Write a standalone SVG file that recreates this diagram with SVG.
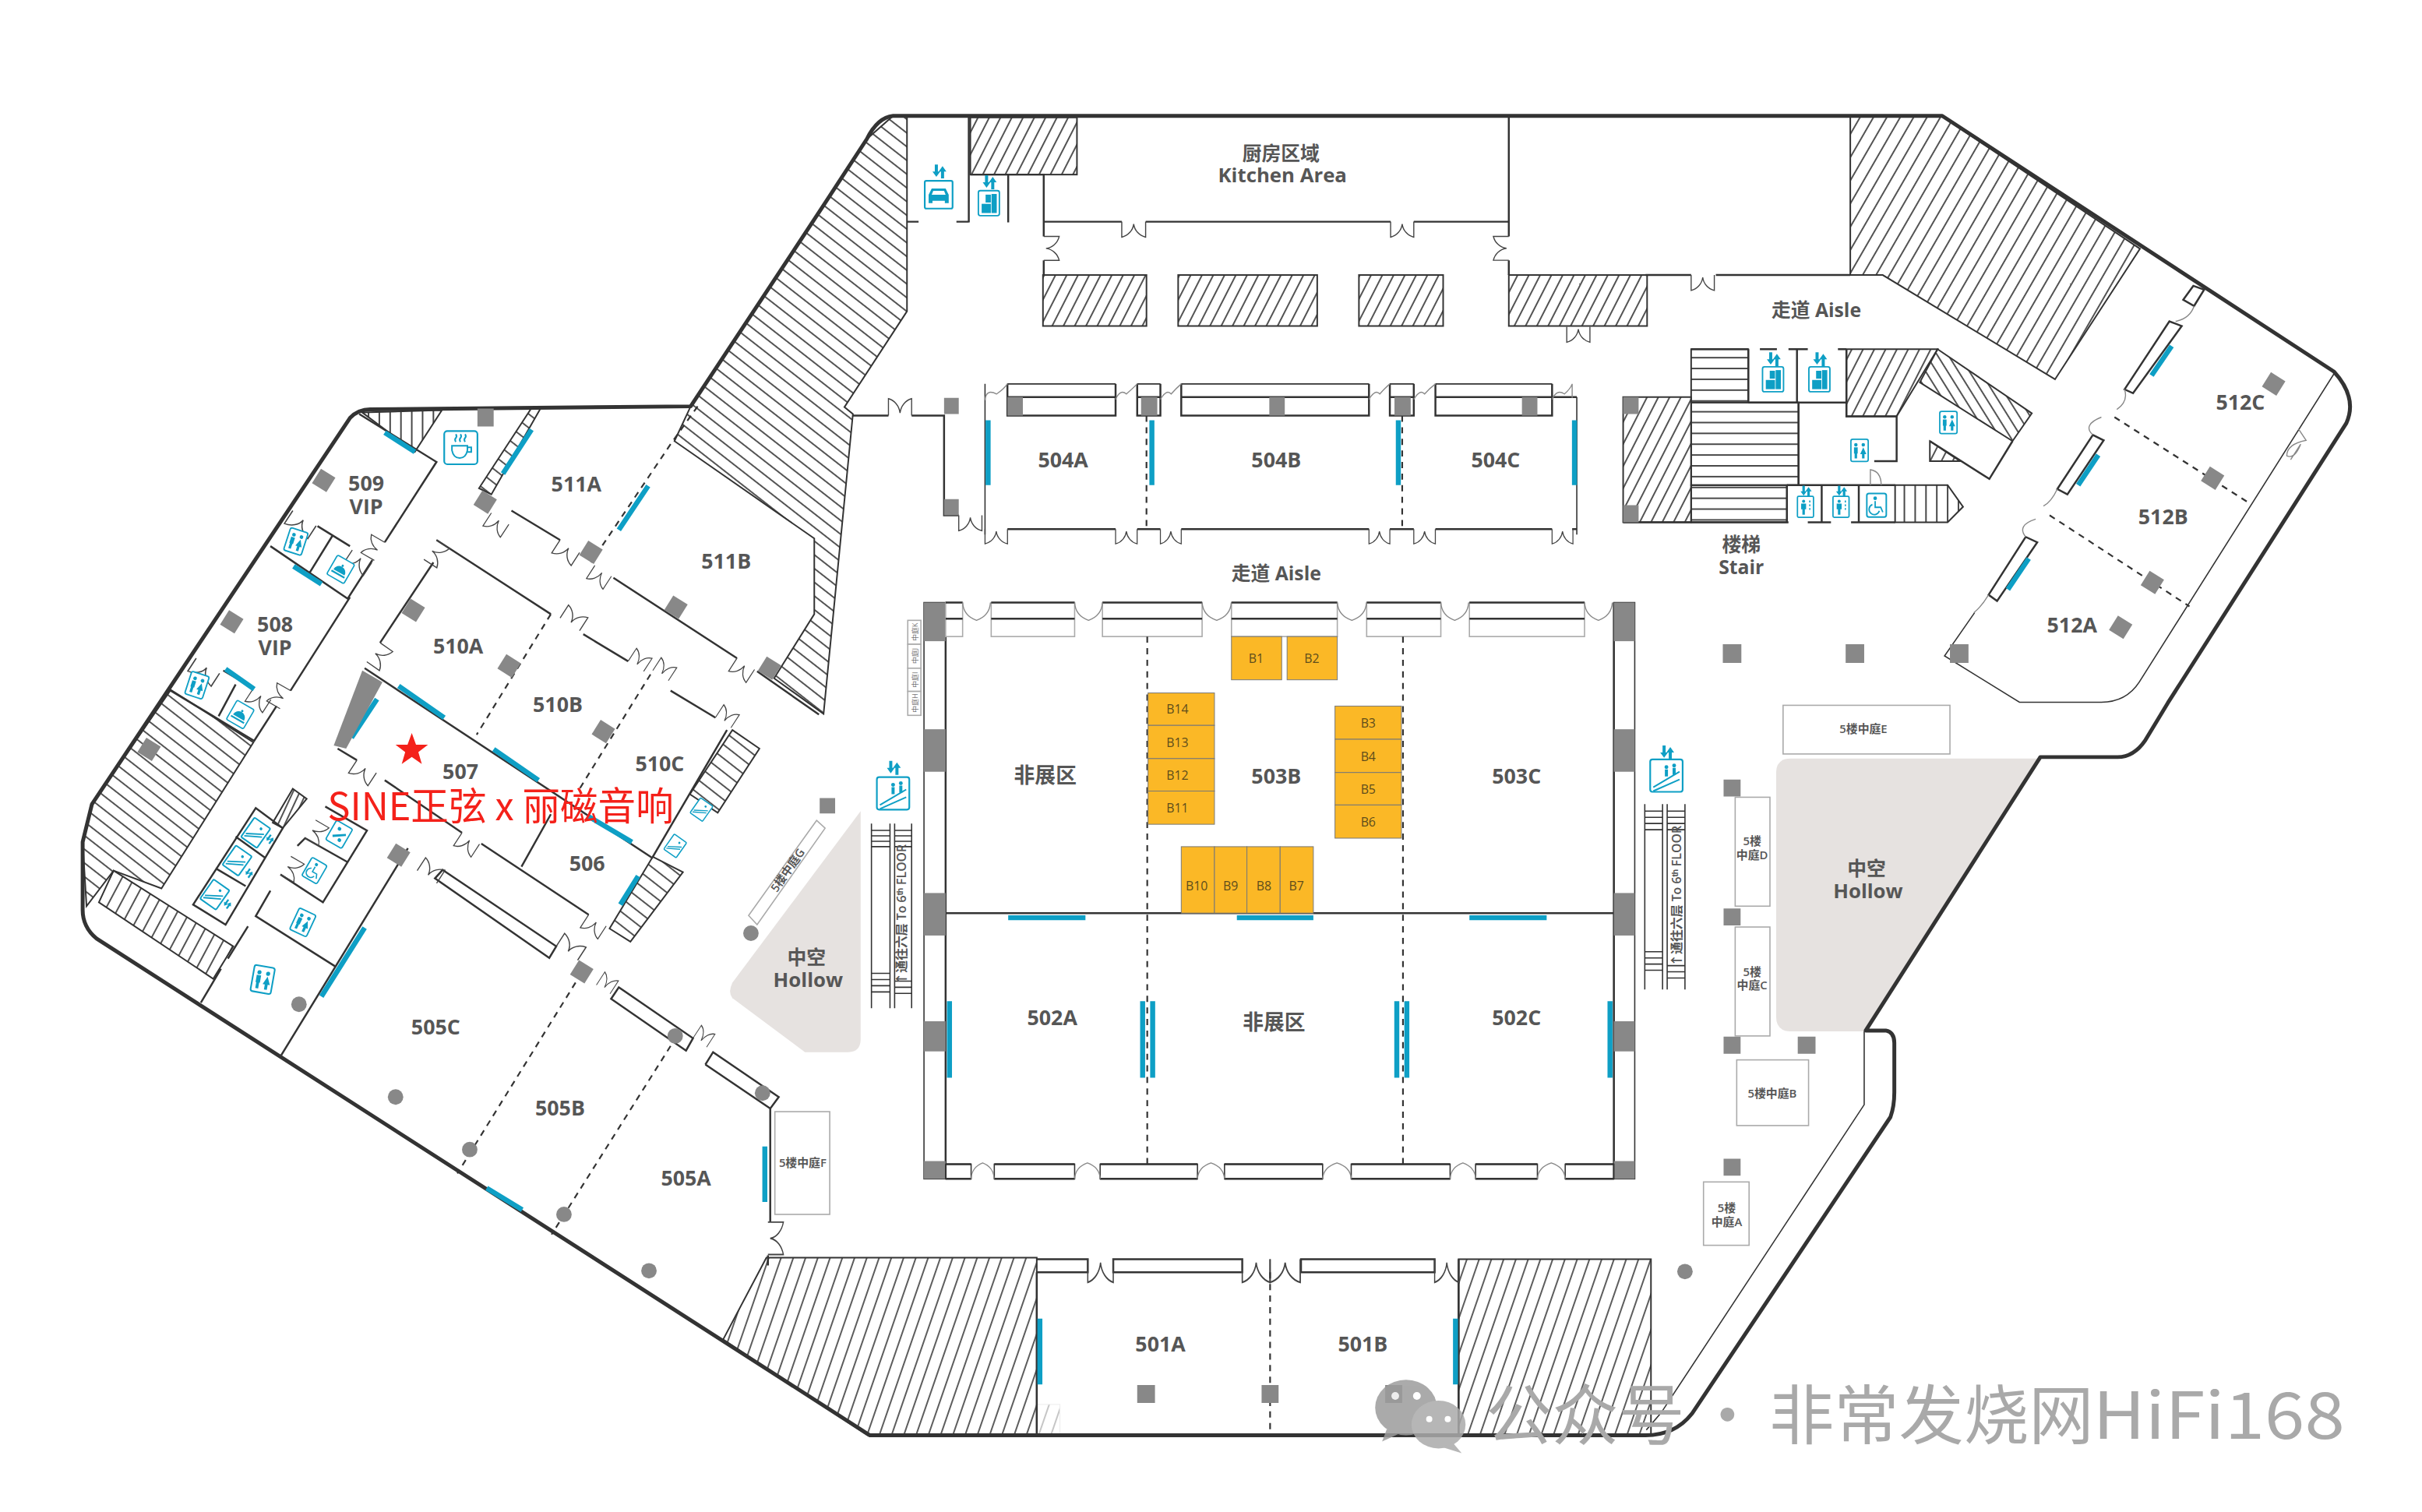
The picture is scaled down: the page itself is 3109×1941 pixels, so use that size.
<svg xmlns="http://www.w3.org/2000/svg" width="3109" height="1941" viewBox="0 0 3109 1941">
<style>
text{font-family:"Open Sans","Noto Sans CJK SC",sans-serif;text-anchor:middle;dominant-baseline:central;fill:#565656}
.l{font-size:27px;font-weight:700}
.c{font-size:25px;font-weight:700}
.s{font-size:15px;font-weight:600}
.xs{font-size:9px;fill:#777}
.b{font-size:16px;font-weight:400;fill:#5d4c1c}
.w{fill:none;stroke:#333;stroke-width:2.5}
.o{fill:none;stroke:#333;stroke-width:5;stroke-linejoin:round}
.t{fill:none;stroke:#333;stroke-width:1.6}
.g{fill:#fff;stroke:#aaa;stroke-width:1.6}
.thin{fill:none;stroke:#888;stroke-width:1.4}
.d{fill:none;stroke:#333;stroke-width:2.2;stroke-dasharray:8 7}
.p{fill:#888}
.bl{fill:none;stroke:#0e9fc5;stroke-width:6.5}
.hb{stroke:#333;stroke-width:2;fill-rule:evenodd}
.or{fill:#fbb826;stroke:#777;stroke-width:1}
.i{fill:#fff;stroke:#0e9fc5;stroke-width:2.2}
.in{fill:none;stroke:#0e9fc5;stroke-width:2}
.if{fill:#0e9fc5}
.wm{fill:#a9a9a9;font-size:84px;font-weight:400;font-family:"Noto Sans CJK SC","Noto Sans",sans-serif}
</style>
<defs>
<pattern id="hs" patternUnits="userSpaceOnUse" width="13" height="13" patternTransform="rotate(27)"><line x1="1" y1="0" x2="1" y2="13" stroke="#333" stroke-width="1.7"/></pattern>
<pattern id="hne" patternUnits="userSpaceOnUse" width="15" height="15" patternTransform="rotate(30)"><line x1="1" y1="0" x2="1" y2="15" stroke="#333" stroke-width="1.7"/></pattern>
<pattern id="hv" patternUnits="userSpaceOnUse" width="15" height="15" patternTransform="rotate(19)"><line x1="1" y1="0" x2="1" y2="15" stroke="#333" stroke-width="1.6"/></pattern>
<pattern id="hbk" patternUnits="userSpaceOnUse" width="14" height="14" patternTransform="rotate(38)"><line x1="0" y1="1" x2="14" y2="1" stroke="#333" stroke-width="1.7"/></pattern>
<pattern id="hst" patternUnits="userSpaceOnUse" width="14" height="14" patternTransform="rotate(28)"><line x1="1" y1="0" x2="1" y2="14" stroke="#333" stroke-width="1.7"/></pattern>
<pattern id="hdn" patternUnits="userSpaceOnUse" width="8" height="8" patternTransform="rotate(25)"><line x1="1" y1="0" x2="1" y2="8" stroke="#333" stroke-width="1.7"/></pattern>
<pattern id="hver" patternUnits="userSpaceOnUse" width="14" height="14"><line x1="1" y1="0" x2="1" y2="14" stroke="#333" stroke-width="1.8"/></pattern>
<pattern id="hhor" patternUnits="userSpaceOnUse" width="14" height="14"><line x1="0" y1="1" x2="14" y2="1" stroke="#333" stroke-width="1.8"/></pattern>
<pattern id="hst2" patternUnits="userSpaceOnUse" width="12" height="12" patternTransform="rotate(58)"><line x1="0" y1="1" x2="12" y2="1" stroke="#333" stroke-width="1.7"/></pattern>
<path id="door" d="M0 0V20A20 20 0 0 0 15 3A20 20 0 0 0 30 20V0" fill="none" stroke="#444" stroke-width="1.4"/>
<path id="dh" d="M0 0Q1 17 18 23Q35 17 36 0" fill="none" stroke="#888" stroke-width="1.4"/>
<g id="arr"><path class="if" d="M-4 -9v9h-3l5 7 5-7h-3v-9zM4 9v-9h-3l5-7 5 7h-3v9z" transform="translate(-1 0)"/></g>
<g id="wc"><rect class="i" x="-14" y="-18" width="28" height="36" rx="3"/><circle class="if" cx="-6" cy="-9" r="2.8"/><circle class="if" cx="6" cy="-9" r="2.8"/><path class="if" d="M-9 -5h6v10h-1v8h-4v-8h-1zM6 -5l5 11h-3v7h-4v-7h-3z"/></g>
<g id="lift"><rect class="i" x="-13" y="-17" width="26" height="34" rx="2"/><circle class="if" cx="-3" cy="-9" r="2.5"/><path class="if" d="M-7 -5h8v9h-2v9h-4v-9h-2z"/><path class="in" d="M7 -10v3m0 3v3m0 3v3" stroke-width="1"/></g>
<g id="cargo"><rect class="i" x="-16" y="-19" width="32" height="38" rx="3"/><rect class="if" x="-5" y="-13" width="8" height="12"/><rect class="if" x="4" y="-14" width="8" height="29"/><rect class="if" x="-11" y="1" width="14" height="14"/></g>
<g id="car"><rect class="i" x="-18" y="-18" width="36" height="36" rx="2"/><path class="if" d="M-9 -8h18l4 8v11h-5v-3h-16v3h-5v-11zM-7 -5l-2 5h18l-2-5z" fill-rule="evenodd"/></g>
<g id="wheel"><rect class="i" x="-14" y="-17" width="28" height="34" rx="3"/><circle class="if" cx="-2" cy="-10" r="2.6"/><path class="in" d="M-2 -6v9h8l3 7M-6 -1a7.500 7.500 0 1 0 10 9"/></g>
<g id="esc"><rect class="i" x="-21" y="-21" width="42" height="42" rx="3"/><path class="in" d="M-17 15L17 -5M-17 20L17 5"/><circle class="if" cx="0" cy="-11" r="2.5"/><circle class="if" cx="10" cy="-13" r="2.5"/><path class="if" d="M-2 -8h4v9h-4zM8 -10h4v9h-4z"/></g>
<g id="esm"><rect class="i" x="-14" y="-17" width="28" height="34" rx="2"/><path class="in" d="M-11 9L11 -5M-11 13L11 0"/><circle class="if" cx="3" cy="-9" r="2"/></g>
<g id="food"><rect class="i" x="-17" y="-19" width="34" height="38" rx="3"/><path class="if" d="M-11 6a11 11 0 0 1 22 0zM-13 8h26v3h-26z"/><circle class="if" cx="0" cy="-7" r="2"/></g>
<g id="baby"><rect class="i" x="-15" y="-18" width="30" height="36" rx="3"/><path class="if" d="M-9 6L9 -6l2 3L-7 9z"/><circle class="if" cx="-4" cy="-8" r="3"/><circle class="if" cx="5" cy="8" r="3"/></g>
</defs>
<rect width="3109" height="1941" fill="#fff"/>
<g id="plan" transform="scale(.9917)">

<g id="hollows">
<path d="M1114 1050V1345Q1114 1362 1098 1362H1042L948 1292Q942 1285 948 1272Z" fill="#e6e2e0"/>
<path d="M2318 982H2641L2415 1335H2318Q2299 1335 2299 1316V1000Q2299 982 2318 982Z" fill="#e6e2e0"/>
</g>

<g id="hatches">
<path class="hb" fill="url(#hbk)" d="M1156 150H1174V403L1093 527L1104 536L1066 924L1002 878L1054 795L1054 697L873 571L894 526L1060 275L1122 180Z"/>
<rect class="hb" fill="url(#hs)" x="1256" y="152" width="138" height="74"/>
<rect class="hb" fill="url(#hs)" x="1350" y="356" width="134" height="66"/>
<rect class="hb" fill="url(#hs)" x="1525" y="356" width="180" height="66"/>
<rect class="hb" fill="url(#hs)" x="1759" y="356" width="109" height="66"/>
<rect class="hb" fill="url(#hs)" x="1953" y="356" width="179" height="66"/>
<path class="hb" fill="url(#hne)" d="M2395 151H2514L2770 322L2660 491L2437 356H2395Z"/>
<rect class="hb" fill="url(#hs)" x="2101" y="514" width="88" height="162"/>
<rect class="hb" fill="url(#hhor)" x="2189" y="452" width="74" height="69"/>
<rect class="hb" fill="url(#hhor)" x="2189" y="521" width="139" height="107"/>
<rect class="hb" fill="url(#hhor)" x="2189" y="628" width="124" height="48"/>
<path class="hb" fill="url(#hs)" d="M2390 452H2508L2455 539H2390Z"/>
<path class="hb" fill="url(#hst2)" d="M2508 452L2630 535L2605 571L2485 495Z"/>
<path class="hb" fill="url(#hs)" d="M2498 571L2537 597H2498Z"/>
<path class="hb" fill="url(#hver)" d="M2453 628H2521L2541 656L2521 676H2453Z"/>
<path class="hb" fill="url(#hbk)" d="M221 893L328 961L209 1150L147 1127L112 1173L107 1090L119 1041Z"/>
<path class="hb" fill="url(#hst)" d="M147 1127L302 1225L276 1267L128 1168Z"/>
<path class="hb" fill="url(#hver)" d="M469 534L572 531L537 585Z"/>
<path class="hb" fill="url(#hbk)" d="M688 528H700L636 640L620 632Z"/>
<path class="hb" fill="url(#hdn)" d="M379 1021L397 1034L366 1072L353 1065Z"/>
<path class="hb" fill="url(#hbk)" d="M948 945L983 969L929 1052L893 1028Z"/>
<path class="hb" fill="url(#hbk)" d="M845 1109L884 1129L816 1219L789 1202Z"/>
<path class="hb" fill="url(#hv)" d="M992 1628H1342V1858H1123L936 1734Z"/>
<rect class="hb" fill="url(#hv)" x="1888" y="1630" width="249" height="228"/>
<rect fill="url(#hv)" stroke="#ccc" x="1342" y="1818" width="30" height="40" opacity=".35"/>
</g>

<g id="outer-wall">
<path class="o" d="M1156 150H2514L3021 481Q3052 515 3037 548L2806 910L2777 958Q2762 980 2741 980H2641L2415 1334H2441Q2452 1336 2452 1350V1414Q2452 1432 2447 1446L2190 1830Q2168 1858 2130 1858H1126L125 1215Q107 1200 107 1178V1090L119 1041L453 541Q464 530 479 530L894 526L1060 275L1122 180Q1136 152 1156 150Z"/>
<path class="t" d="M2413 1335V1430L2150 1829L2131 1851"/>
<path class="t" d="M3021 484L2769 883Q2752 909 2720 909H2614L2517 849L2556 793"/>
</g>

<g id="walls">
<path class="w" d="M1254 150V288M1238 287H1254M1174 287H1189M1305 226V288M1256 226H1351V287H1452M1483 287H1800M1830 287H1953V306M1953 337V356M1351 287V306M1351 337V356M1953 150V287"/>
<path class="w" d="M1104 538H1150M1180 538H1222V667H1241M2130 356H2189M2221 356H2395"/>
<use href="#door" transform="translate(1452 287) scale(1.03 1)"/><use href="#door" transform="translate(1800 287)"/>
<use href="#door" transform="translate(1351 337) rotate(-90) scale(1.03 1)"/><use href="#door" transform="translate(1953 306) rotate(90) scale(1.03 1)"/>
<use href="#door" transform="translate(1150 538) scale(1 -1.1)"/><use href="#door" transform="translate(2028 423)"/><use href="#door" transform="translate(2189 356)"/>
<use href="#door" transform="translate(1241 667)"/>
<path class="t" d="M1275 497V692M1304 497H1444M1472 497H1502M1529 497H1772M1799 497H1830M1858 497H2009M2041 514V692"/>
<path class="w" d="M1304 514H1444V538H1304ZM1472 514H1502V538H1472ZM1529 514H1772V538H1529ZM1799 514H1830V538H1799ZM1858 514H2009V538H1858ZM1304 497V514M1444 497V514M1472 497V514M1502 497V514M1529 497V514M1772 497V514M1799 497V514M1830 497V514M1858 497V514M2009 497V514M2009 514H2041"/>
<path class="w" d="M1304 685H1444M1472 685H1502M1529 685H1772M1799 685H1830M1858 685H2009M2035 685H2041"/>
<use href="#door" transform="translate(1275 685) scale(.97 .95)"/><use href="#door" transform="translate(1444 685) scale(.93 .95)"/><use href="#door" transform="translate(1502 685) scale(.9 .95)"/><use href="#door" transform="translate(1772 685) scale(.9 .95)"/><use href="#door" transform="translate(1830 685) scale(.93 .95)"/><use href="#door" transform="translate(2009 685) scale(.9 .95)"/>
<path class="thin" d="M1275 518Q1276 503 1290 510Q1300 503 1304 497M1444 517Q1450 503 1458 510Q1466 503 1472 497M1502 517Q1510 503 1516 510Q1522 503 1529 497M1772 517Q1780 503 1786 510Q1792 503 1799 497M1830 517Q1838 503 1844 510Q1850 503 1858 497M2009 517Q2015 503 2025 510Q2033 503 2035 497V515"/>
<path class="w" d="M2189 452H2263M2263 452V521M2326 452V521M2390 452V539H2455V597H2426M2263 521H2390M2328 521V628M2300 452H2278M2326 452H2315M2340 452H2326M2379 452H2390M2313 628V676M2358 628V676M2406 628V676M2313 628H2453M2101 676H2315M2340 676H2370M2396 676H2453"/>
<path class="w" d="M2498 571L2575 620L2605 571"/>
<path class="thin" d="M2421 628V608Q2435 610 2435 628"/>
<path class="w" d="M465 536L565 598L498 702M482 725L450 775L350 707M411 681L453 707M430 694L401 741M453 773L376 894M358 914L329 959L221 894M289 868L328 891M305 886L283 927"/>
<path class="w" d="M662 661L725 699M794 748L954 852M980 869L1060 925M565 699L713 795M755 821L813 856M868 894L926 929M941 945L845 1109M561 728L492 832M472 865L845 1111M437 969L462 984M498 1010L598 1078M623 1092L762 1184M713 1054L675 1122"/>
<path class="w" d="M331 1046L250 1171L292 1197L366 1072ZM305 1083L344 1111M279 1124L318 1147"/>
<path class="w" d="M421 1044L475 1075L418 1168L363 1132M450 1116L395 1085L385 1095M350 1153L331 1186L434 1251"/>
<path class="w" d="M528 1098L364 1366M321 1199L295 1241M286 1254L260 1298"/>
<path class="w" d="M573 1126L720 1225L711 1240L563 1137ZM791 1293L801 1278L897 1344L888 1360ZM913 1378L923 1362L1008 1420L997 1435V1582M994 1625V1638M913 1378L997 1435"/>
<path class="w" d="M1342 1630H1408V1647H1342M1441 1630H1608V1647H1441ZM1684 1630H1857V1647H1684ZM1342 1647V1858M1888 1630V1858"/>
<use href="#door" transform="translate(379 661) rotate(33) scale(1.2 1)"/><use href="#door" transform="translate(498 702) rotate(120) scale(.9 1)"/><use href="#door" transform="translate(456 712) rotate(33)"/>
<use href="#door" transform="translate(254 852) rotate(33) scale(1.2 1)"/><use href="#door" transform="translate(376 894) rotate(120) scale(.9 1)"/><use href="#door" transform="translate(328 891) rotate(33) scale(.9 1)"/>
<use href="#door" transform="translate(565 699) rotate(123) scale(1 -1)"/><use href="#door" transform="translate(492 832) rotate(125) scale(1 -1)"/>
<use href="#door" transform="translate(725 800) rotate(33) scale(1 -1)"/><use href="#door" transform="translate(813 856) rotate(33) scale(.8 -1)"/><use href="#door" transform="translate(845 868) rotate(33) scale(.8 -1)"/><use href="#door" transform="translate(926 929) rotate(33) scale(.8 -1)"/>
<use href="#door" transform="translate(636 664) rotate(33) scale(.9 1)"/><use href="#door" transform="translate(725 699) rotate(33)"/><use href="#door" transform="translate(770 732) rotate(33) scale(.85 1)"/><use href="#door" transform="translate(954 852) rotate(33) scale(.9 1)"/>
<use href="#door" transform="translate(462 984) rotate(33)"/><use href="#door" transform="translate(598 1078) rotate(33) scale(.9 1)"/><use href="#door" transform="translate(762 1184) rotate(33) scale(.9 1)"/>
<use href="#door" transform="translate(395 1085) rotate(-60) scale(.9 1)"/><use href="#door" transform="translate(363 1132) rotate(-60) scale(.9 1)"/>
<use href="#door" transform="translate(540 1127) rotate(33) scale(1 -1)"/><use href="#door" transform="translate(720 1225) rotate(33) scale(1.1 -1)"/><use href="#door" transform="translate(772 1275) rotate(33) scale(.7 -1)"/><use href="#door" transform="translate(897 1344) rotate(33) scale(.7 -1)"/>
<use href="#door" transform="translate(994 1582) rotate(90) scale(1.4 -1)"/>
<use href="#door" transform="translate(1408 1630) scale(1.1 1.5)"/><use href="#door" transform="translate(1608 1630) scale(1.2 1.5)"/><use href="#door" transform="translate(1644 1630) scale(1.3 1.5)"/><use href="#door" transform="translate(1857 1630) scale(1.05 1.5)"/>
<path class="w" d="M2750 504L2808 416L2824 422L2761 509ZM2663 633L2709 563L2723 570L2676 640ZM2574 770L2622 695L2637 702L2585 778ZM2826 388L2839 370L2853 375L2840 396Z"/>
<path class="thin" d="M2840 396Q2835 412 2816 416M2750 504Q2755 520 2740 530M2709 563Q2695 550 2720 540M2663 633Q2655 650 2645 655M2622 695Q2610 680 2635 672M2574 770Q2565 785 2555 793M2975 555L2985 570Q2960 575 2960 590Q2970 595 2978 575L2965 595"/>
</g>

<g id="exhibition-hall">
<rect x="1196" y="780" width="28" height="746" class="t" fill="#fff"/>
<rect x="2089" y="780" width="27" height="746" class="t" fill="#fff"/>
<path class="w" stroke-width="3" d="M1224 1182H2089M1224 780V1526M2089 780V1526"/>
<g fill="#888">
<rect x="1196" y="780" width="28" height="50"/><rect x="1196" y="944" width="28" height="55"/><rect x="1196" y="1156" width="28" height="55"/><rect x="1196" y="1322" width="28" height="39"/><rect x="1196" y="1503" width="28" height="23"/>
<rect x="2089" y="780" width="27" height="50"/><rect x="2089" y="944" width="27" height="55"/><rect x="2089" y="1156" width="27" height="55"/><rect x="2089" y="1322" width="27" height="39"/><rect x="2089" y="1503" width="27" height="23"/>
</g>
<g class="g">
<rect x="1224" y="780" width="22" height="44"/><rect x="1283" y="780" width="108" height="44"/><rect x="1427" y="780" width="129" height="44"/><rect x="1594" y="780" width="137" height="44"/><rect x="1769" y="780" width="96" height="44"/><rect x="1902" y="780" width="149" height="44"/>
</g>
<path class="w" d="M1224 780H1246M1283 780H1391M1427 780H1556M1594 780H1731M1769 780H1865M1902 780H2051M1224 801H1246M1283 801H1391M1427 801H1556M1594 801H1731M1769 801H1865M1902 801H2051"/>
<use href="#dh" transform="translate(1246 780)"/><use href="#dh" transform="translate(1391 780)"/><use href="#dh" transform="translate(1556 780) scale(1.05 1)"/><use href="#dh" transform="translate(1731 780) scale(1.05 1)"/><use href="#dh" transform="translate(1865 780)"/><use href="#dh" transform="translate(2051 780)"/>
<g class="t"><rect x="1224" y="1507" width="33" height="19"/><rect x="1287" y="1507" width="104" height="19"/><rect x="1424" y="1507" width="126" height="19"/><rect x="1585" y="1507" width="127" height="19"/><rect x="1749" y="1507" width="128" height="19"/><rect x="1910" y="1507" width="80" height="19"/><rect x="2026" y="1507" width="63" height="19"/></g>
<path class="w" d="M1224 1507H1257M1287 1507H1391M1424 1507H1550M1585 1507H1712M1749 1507H1877M1910 1507H1990M2026 1507H2089M1224 1526H1257M1287 1526H1391M1424 1526H1550M1585 1526H1712M1749 1526H1877M1910 1526H1990M2026 1526H2089"/>
<use href="#dh" transform="translate(1257 1526) scale(.83 -.9)"/><use href="#dh" transform="translate(1391 1526) scale(.92 -.9)"/><use href="#dh" transform="translate(1550 1526) scale(.97 -.9)"/><use href="#dh" transform="translate(1712 1526) scale(1.03 -.9)"/><use href="#dh" transform="translate(1877 1526) scale(.92 -.9)"/><use href="#dh" transform="translate(1990 1526) scale(1 -.9)"/>
<path class="d" d="M1485 824V1507M1816 824V1507"/>
</g>

<g id="booths">
<g id="booth-B1"><rect class="or" x="1594" y="824" width="65" height="56"/><text class="b" x="1626" y="852">B1</text></g>
<g id="booth-B2"><rect class="or" x="1666" y="824" width="65" height="56"/><text class="b" x="1698" y="852">B2</text></g>
<g id="booth-B14"><rect class="or" x="1486" y="897" width="86" height="42"/><text class="b" x="1524" y="918">B14</text></g>
<g id="booth-B13"><rect class="or" x="1486" y="939" width="86" height="43"/><text class="b" x="1524" y="961">B13</text></g>
<g id="booth-B12"><rect class="or" x="1486" y="982" width="86" height="42"/><text class="b" x="1524" y="1003">B12</text></g>
<g id="booth-B11"><rect class="or" x="1486" y="1024" width="86" height="43"/><text class="b" x="1524" y="1046">B11</text></g>
<g id="booth-B3"><rect class="or" x="1728" y="914" width="86" height="43"/><text class="b" x="1771" y="936">B3</text></g>
<g id="booth-B4"><rect class="or" x="1728" y="957" width="86" height="43"/><text class="b" x="1771" y="979">B4</text></g>
<g id="booth-B5"><rect class="or" x="1728" y="1000" width="86" height="42"/><text class="b" x="1771" y="1021">B5</text></g>
<g id="booth-B6"><rect class="or" x="1728" y="1042" width="86" height="43"/><text class="b" x="1771" y="1064">B6</text></g>
<g id="booth-B10"><rect class="or" x="1529" y="1096" width="43" height="86"/><text class="b" x="1549" y="1147">B10</text></g>
<g id="booth-B9"><rect class="or" x="1572" y="1096" width="42" height="86"/><text class="b" x="1593" y="1147">B9</text></g>
<g id="booth-B8"><rect class="or" x="1614" y="1096" width="43" height="86"/><text class="b" x="1636" y="1147">B8</text></g>
<g id="booth-B7"><rect class="or" x="1657" y="1096" width="43" height="86"/><text class="b" x="1678" y="1147">B7</text></g>
</g>

<g id="partitions">
<path class="d" d="M1484 538V685M1815 538V685M2737 540L2911 651M2653 667L2834 785M713 795L617 951M842 873L749 1023M868 575L765 728M903 526L868 575M745 1272L592 1519M868 1354L714 1598M1644 1647V1858"/>
<g id="blue-bars">
<path class="bl" d="M1305 1188H1405M1601 1188H1700M1902 1188H2002M1229 1296V1395M1479 1296V1395M1492 1296V1395M1808 1296V1395M1821 1296V1395M2084 1296V1395M1279 544V628M1491 544V628M1810 544V628M2038 544V628"/>
<path class="bl" d="M2811 448L2785 486M2716 589L2690 628M2626 723L2599 763M498 560L537 585M688 556L651 613M839 629L801 686M380 733L416 756M292 866L329 892M516 888L575 929M639 970L697 1010M762 1057L818 1090M488 905L455 955M826 1134L803 1171M472 1201L416 1290M630 1538L676 1566"/>
<path class="bl" stroke-width="5" d="M990 1484V1556M1346 1707V1792M1884 1707V1792"/>
</g>
<g id="pillars">
<path class="p" d="M1222 515h19v21h-19zM1222 646h19v21h-19zM1304 514h20v24h-20zM1477 514h21v24h-21zM1643 514h20v24h-20zM1805 514h21v24h-21zM1970 514h20v24h-20zM2101 514h20v22h-20zM2101 654h20v22h-20zM2230 834h24v24h-24zM2389 834h24v24h-24zM2524 834h24v24h-24zM2231 1009h22v22h-22zM2231 1176h22v22h-22zM2231 1342h22v22h-22zM2327 1342h23v22h-23zM2231 1500h22v22h-22zM1472 1793h23v23h-23zM1633 1793h22v23h-22zM1793 1793h22v23h-22zM618 529h21v23h-21zM1061 1033h20v20h-20z"/>
<g class="p">
<rect x="-11" y="-11" width="22" height="22" transform="translate(2943 497) rotate(32)"/><rect x="-11" y="-11" width="22" height="22" transform="translate(2864 619) rotate(32)"/><rect x="-11" y="-11" width="22" height="22" transform="translate(2786 754) rotate(32)"/><rect x="-11" y="-11" width="22" height="22" transform="translate(2745 812) rotate(32)"/>
<rect x="-11" y="-11" width="22" height="22" transform="translate(419 622) rotate(32)"/><rect x="-11" y="-11" width="22" height="22" transform="translate(300 805) rotate(32)"/><rect x="-11" y="-11" width="22" height="22" transform="translate(193 970) rotate(32)"/>
<rect x="-11" y="-11" width="22" height="22" transform="translate(535 790) rotate(32)"/><rect x="-11" y="-11" width="22" height="22" transform="translate(659 862) rotate(32)"/><rect x="-11" y="-11" width="22" height="22" transform="translate(781 947) rotate(32)"/>
<rect x="-11" y="-11" width="22" height="22" transform="translate(765 715) rotate(32)"/><rect x="-11" y="-11" width="22" height="22" transform="translate(875 786) rotate(32)"/><rect x="-11" y="-11" width="22" height="22" transform="translate(996 865) rotate(32)"/><rect x="-11" y="-11" width="22" height="22" transform="translate(628 650) rotate(32)"/>
<rect x="-11" y="-11" width="22" height="22" transform="translate(516 1107) rotate(32)"/><rect x="-11" y="-11" width="22" height="22" transform="translate(753 1258) rotate(32)"/>
<path d="M469 868L495 883L448 969L432 965Z"/>
<circle cx="972" cy="1208" r="10"/><circle cx="387" cy="1300" r="10"/><circle cx="512" cy="1420" r="10"/><circle cx="608" cy="1488" r="10"/><circle cx="730" cy="1572" r="10"/><circle cx="840" cy="1645" r="10"/><circle cx="874" cy="1341" r="10"/><circle cx="987" cy="1415" r="10"/><circle cx="2181" cy="1646" r="10"/>
</g>
</g>
</g>

<g id="escalators">
<path class="t" d="M1128 1066V1305M1152 1066V1305M1158 1066V1305M1180 1066V1305M1128 1075H1152M1128 1082H1152M1128 1089H1152M1128 1096H1152M1128 1260H1152M1128 1268H1152M1128 1276H1152M1128 1284H1152M1158 1075H1180M1158 1082H1180M1158 1089H1180M1158 1096H1180M1158 1270H1180M1158 1278H1180M1158 1286H1180"/>
<path class="t" d="M2129 1041V1281M2152 1041V1281M2158 1041V1281M2181 1041V1281M2129 1050H2152M2129 1058H2152M2129 1066H2152M2129 1074H2152M2129 1232H2152M2129 1240H2152M2129 1248H2152M2129 1256H2152M2158 1050H2181M2158 1058H2181M2158 1066H2181M2158 1074H2181M2158 1250H2181M2158 1258H2181M2158 1266H2181"/>
<text style="font-size:16px;fill:#555;font-weight:600" transform="translate(1167 1184) rotate(-90)">↑通往六层 To 6ᵗʰ FLOOR</text>
<text style="font-size:16px;fill:#555;font-weight:600" transform="translate(2170 1160) rotate(-90)">↑通往六层 To 6ᵗʰ FLOOR</text>
</g>

<g id="icons">
<use href="#car" transform="translate(1215 252)"/><use href="#arr" transform="translate(1215 222)"/>
<use href="#cargo" transform="translate(1280 263) scale(.85)"/><use href="#arr" transform="translate(1280 236)"/>
<use href="#cargo" transform="translate(2295 491) scale(.85)"/><use href="#arr" transform="translate(2295 465)"/>
<use href="#cargo" transform="translate(2355 491) scale(.85)"/><use href="#arr" transform="translate(2355 465)"/>
<use href="#wc" transform="translate(2522 547) scale(.8)"/><use href="#wc" transform="translate(2407 583) scale(.8)"/>
<use href="#lift" transform="translate(2337 656) scale(.8)"/><use href="#arr" transform="translate(2337 636) scale(.8)"/>
<use href="#lift" transform="translate(2383 656) scale(.8)"/><use href="#arr" transform="translate(2383 636) scale(.8)"/>
<use href="#wheel" transform="translate(2429 654) scale(.9)"/>
<use href="#esc" transform="translate(1156 1027)"/><use href="#arr" transform="translate(1156 994)"/>
<use href="#esc" transform="translate(2157 1004)"/><use href="#arr" transform="translate(2157 974)"/>
<g id="cup"><rect class="i" x="575" y="558" width="43" height="43" rx="4"/><path class="in" d="M585 577h20v6q-2 10-10 10t-10-10zM605 579h5v6h-6M590 572q-2-3 0-5t0-5M596 572q-2-3 0-5t0-5M602 572q-2-3 0-5t0-5"/></g>
<use href="#wc" transform="translate(383 701) rotate(18) scale(.85)"/><use href="#food" transform="translate(441 737) rotate(30) scale(.75)"/>
<use href="#wc" transform="translate(255 887) rotate(18) scale(.85)"/><use href="#food" transform="translate(311 925) rotate(30) scale(.75)"/>
<use href="#esm" transform="translate(331 1078) rotate(35) scale(.9)"/><use href="#esm" transform="translate(307 1114) rotate(35) scale(.9)"/><use href="#esm" transform="translate(278 1158) rotate(35) scale(.9)"/>
<use href="#arr" transform="translate(349 1086) rotate(35) scale(.6)"/><use href="#arr" transform="translate(322 1130) rotate(35) scale(.6)"/><use href="#arr" transform="translate(294 1170) rotate(35) scale(.6)"/>
<use href="#wheel" transform="translate(407 1127) rotate(30) scale(.8)"/><use href="#baby" transform="translate(439 1080) rotate(30) scale(.8)"/>
<use href="#wc" transform="translate(392 1194) rotate(25) scale(.85)"/><use href="#wc" transform="translate(340 1268) rotate(10) scale(.95)"/>
<use href="#esm" transform="translate(908 1048) rotate(35) scale(.7)"/><use href="#esm" transform="translate(874 1095) rotate(35) scale(.7)"/>
</g>

<g id="atria">
<g id="atrium-E"><rect class="g" x="2308" y="913" width="216" height="63"/><text class="s" x="2412" y="943">5楼中庭E</text></g>
<g id="atrium-D"><rect class="g" x="2246" y="1032" width="45" height="141"/><text class="s" x="2268" y="1088">5楼</text><text class="s" x="2268" y="1106">中庭D</text></g>
<g id="atrium-C"><rect class="g" x="2246" y="1200" width="45" height="141"/><text class="s" x="2268" y="1257">5楼</text><text class="s" x="2268" y="1275">中庭C</text></g>
<g id="atrium-B"><rect class="g" x="2248" y="1372" width="93" height="85"/><text class="s" x="2294" y="1415">5楼中庭B</text></g>
<g id="atrium-A"><rect class="g" x="2205" y="1530" width="59" height="82"/><text class="s" x="2235" y="1563">5楼</text><text class="s" x="2235" y="1581">中庭A</text></g>
<g id="atrium-F"><rect class="g" x="1003" y="1439" width="71" height="133"/><text class="s" x="1039" y="1504">5楼中庭F</text></g>
<g id="atrium-G"><path class="g" d="M1057 1062L1068 1072L980 1197L969 1185Z"/><text class="s" transform="translate(1019 1126) rotate(-55)">5楼中庭G</text></g>
<g id="atrium-KH">
<rect class="g" x="1175" y="803" width="17" height="31"/><rect class="g" x="1175" y="834" width="17" height="31"/><rect class="g" x="1175" y="865" width="17" height="30"/><rect class="g" x="1175" y="895" width="17" height="31"/>
<text class="xs" transform="translate(1184 818) rotate(-90)">中庭K</text><text class="xs" transform="translate(1184 849) rotate(-90)">中庭J</text><text class="xs" transform="translate(1184 880) rotate(-90)">中庭I</text><text class="xs" transform="translate(1184 910) rotate(-90)">中庭H</text>
</g>
</g>

<g id="labels">
<text class="c" x="1658" y="198">厨房区域</text><text class="c" style="font-size:26px" x="1660" y="226">Kitchen Area</text>
<text class="c" x="2351" y="401">走道 Aisle</text><text class="c" x="1652" y="742">走道 Aisle</text>
<text class="c" x="2254" y="704">楼梯</text><text class="c" x="2254" y="734">Stair</text>
<text class="c" x="1044" y="1239">中空</text><text class="c" style="font-size:26px" x="1046" y="1268">Hollow</text>
<text class="c" x="2416" y="1124">中空</text><text class="c" style="font-size:26px" x="2418" y="1153">Hollow</text>
<g id="room-504A"><text class="l" x="1376" y="594">504A</text></g><g id="room-504B"><text class="l" x="1652" y="594">504B</text></g><g id="room-504C"><text class="l" x="1936" y="594">504C</text></g>
<g id="room-503A"><text class="l" x="1353" y="1003">非展区</text></g><g id="room-503B"><text class="l" x="1652" y="1004">503B</text></g><g id="room-503C"><text class="l" x="1963" y="1004">503C</text></g>
<g id="room-502A"><text class="l" x="1362" y="1316">502A</text></g><g id="room-502B"><text class="l" x="1649" y="1322">非展区</text></g><g id="room-502C"><text class="l" x="1963" y="1316">502C</text></g>
<g id="room-501A"><text class="l" x="1502" y="1739">501A</text></g><g id="room-501B"><text class="l" x="1764" y="1739">501B</text></g>
<g id="room-505A"><text class="l" x="888" y="1524">505A</text></g><g id="room-505B"><text class="l" x="725" y="1433">505B</text></g><g id="room-505C"><text class="l" x="564" y="1329">505C</text></g>
<g id="room-506"><text class="l" x="760" y="1117">506</text></g><g id="room-507"><text class="l" x="596" y="998">507</text></g>
<g id="room-508"><text class="l" x="356" y="807">508</text><text class="l" x="356" y="837">VIP</text></g>
<g id="room-509"><text class="l" x="474" y="625">509</text><text class="l" x="474" y="655">VIP</text></g>
<g id="room-510A"><text class="l" x="593" y="835">510A</text></g><g id="room-510B"><text class="l" x="722" y="911">510B</text></g><g id="room-510C"><text class="l" x="854" y="988">510C</text></g>
<g id="room-511A"><text class="l" x="746" y="626">511A</text></g><g id="room-511B"><text class="l" x="940" y="726">511B</text></g>
<g id="room-512A"><text class="l" x="2682" y="808">512A</text></g><g id="room-512B"><text class="l" x="2800" y="668">512B</text></g><g id="room-512C"><text class="l" x="2900" y="520">512C</text></g>
</g>

<g id="marker-507">
<path d="M533 949L538.500 964H554L541.500 973.500L546 989L533 980L520 989L524.500 973.500L512 964H527.500Z" fill="#f4211a"/>
<text x="648" y="1040" style="font-size:50px;fill:#f4211a;font-family:'Noto Sans CJK SC','Noto Sans',sans-serif;font-weight:400" textLength="448" lengthAdjust="spacingAndGlyphs">SINE正弦 x 丽磁音响</text>
</g>

<g id="watermark">
<g fill="#9c9c9c" opacity=".85" transform="translate(0 -8)">
<ellipse cx="1820" cy="1830" rx="40" ry="36"/><path d="M1795 1858l-6 16 22-10z"/>
<ellipse cx="1862" cy="1852" rx="35" ry="31" fill="#aaa"/><path d="M1880 1875l12 14-26-8z" fill="#aaa"/>
<circle cx="1806" cy="1815" r="5" fill="#fff"/><circle cx="1834" cy="1815" r="5" fill="#fff"/><circle cx="1850" cy="1845" r="4" fill="#fff"/><circle cx="1874" cy="1845" r="4" fill="#fff"/>
</g>
<text class="wm" x="2052" y="1826" style="font-size:86px">公众号</text>
<text class="wm" x="2236" y="1826">·</text>
<text class="wm" x="2500" y="1826">非常发烧网</text>
<text class="wm" x="2872" y="1826" textLength="326" lengthAdjust="spacingAndGlyphs">HiFi168</text>
</g>
</g>
</svg>
